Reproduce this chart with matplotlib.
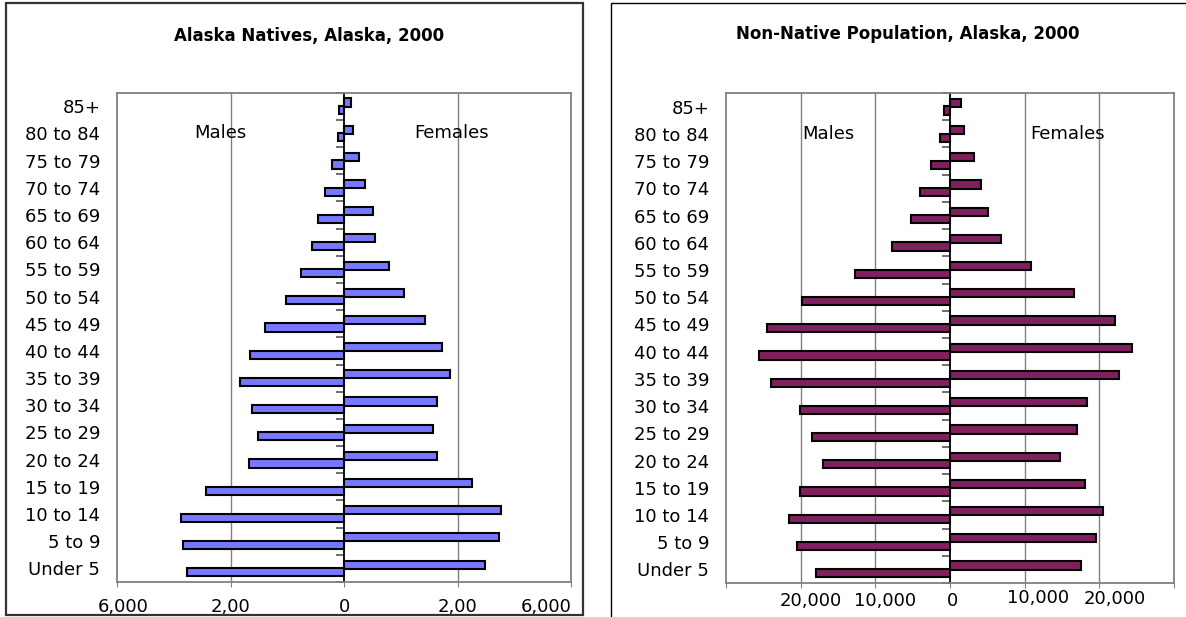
import matplotlib
matplotlib.use("Agg")
import matplotlib.pyplot as plt
from matplotlib.patches import Rectangle
from matplotlib.transforms import ScaledTranslation

age_groups = ["Under 5", "5 to 9", "10 to 14", "15 to 19", "20 to 24", "25 to 29",
              "30 to 34", "35 to 39", "40 to 44", "45 to 49", "50 to 54", "55 to 59",
              "60 to 64", "65 to 69", "70 to 74", "75 to 79", "80 to 84", "85+"]

# Alaska Natives
native_male = [2770, 2840, 2870, 2430, 1680, 1510, 1620, 1830, 1650, 1400, 1030, 760,
               570, 450, 340, 220, 100, 80]
native_female = [2480, 2740, 2760, 2250, 1640, 1560, 1640, 1870, 1730, 1420, 1050, 790,
                 550, 510, 370, 260, 150, 130]

# Non-Native population
nonnative_male = [17970, 20460, 21620, 20100, 17000, 18430, 20100, 24010, 25630, 24470,
                  19800, 12790, 7820, 5230, 3960, 2540, 1320, 760]
nonnative_female = [17510, 19540, 20460, 18020, 14720, 17060, 18380, 22590, 24370, 22130,
                    16600, 10910, 6850, 5080, 4160, 3250, 1880, 1470]

native_ticks = [-4000, -2000, 0, 2000, 4000]
native_ticklabels = ["6,000", "2,00", "0", "2,00", "6,000"]
nonnative_ticks = [-30000, -20000, -10000, 0, 10000, 20000, 30000]
nonnative_ticklabels = ["", "20,000", "10,000", "0", "10,000", "20,000", ""]

plt.rcParams['font.family'] = ['DejaVu Sans']

fig = plt.figure(figsize=(11.86, 6.17), dpi=100)
W, H = 1186, 617


def px_box(x0, y0, x1, y1):
    return [x0 / W, 1 - y1 / H, (x1 - x0) / W, (y1 - y0) / H]


# chart frames
fig.add_artist(Rectangle((6 / W, 1 - 615 / H), 577 / W, 612 / H, transform=fig.transFigure,
                         fill=False, ec='#333333', lw=1.6))
fig.add_artist(Rectangle((611 / W, -0.05), 0.6, 1 - 3 / H + 0.05, transform=fig.transFigure,
                         fill=False, ec='black', lw=1.0))


def pyramid(ax, males, females, color, xmax, ticks, ticklabels, label_shift, title, title_xy,
            males_x, females_x, pad):
    y = list(range(len(age_groups)))
    ax.barh([v + 0.14 for v in y], females, height=0.3, color=color,
            edgecolor='black', linewidth=1.5, zorder=3)
    ax.barh([v - 0.14 for v in y], [-m for m in males], height=0.3, color=color,
            edgecolor='black', linewidth=1.5, zorder=3)
    ax.set_xlim(-xmax, xmax)
    ax.set_ylim(-0.5, len(age_groups) - 0.5)
    ax.set_yticks(y)
    ax.set_yticklabels(age_groups, fontsize=13)
    ax.tick_params(axis='y', length=0, pad=12)
    ax.set_xticks(ticks)
    ax.set_xticklabels(ticklabels, fontsize=13)
    ax.tick_params(axis='x', length=3.5, color='#808080', pad=pad)
    for lab, (dx, dy) in zip(ax.get_xticklabels(), label_shift):
        lab.set_transform(lab.get_transform() + ScaledTranslation(dx / 100, dy / 100, fig.dpi_scale_trans))
    for t in ticks[1:-1]:
        if t != 0:
            ax.axvline(t, color='#808080', lw=1, zorder=1)
    for s in ax.spines.values():
        s.set_color('#808080')
        s.set_linewidth(1.3)
    # vertical axis through zero with category boundary ticks pointing left
    zero_axis = ax.secondary_yaxis(0.5)
    zero_axis.set_yticks([v - 0.5 for v in range(len(age_groups) + 1)])
    zero_axis.set_yticklabels([])
    zero_axis.tick_params(length=5.5, color='#555555', width=1.2, direction='in')
    for s in zero_axis.spines.values():
        s.set_color('black')
        s.set_linewidth(1.3)
    ax.text(males_x, 16, "Males", fontsize=13, ha='center', va='center', zorder=4)
    ax.text(females_x, 16, "Females", fontsize=13, ha='center', va='center', zorder=4)
    fig.text(title_xy[0] / W, 1 - title_xy[1] / H, title, fontsize=12, fontweight='bold',
             ha='center', va='center')


ax1 = fig.add_axes(px_box(117, 92.7, 571, 582))
pyramid(ax1, native_male, native_female, '#7777FF', 4000, native_ticks, native_ticklabels,
        [(6, 0), (0, 0), (0, 0), (0, 0), (-25, 0)], "Alaska Natives, Alaska, 2000", (309, 36),
        -2185, 1900, 8)

ax2 = fig.add_axes(px_box(726, 93, 1174, 583))
pyramid(ax2, nonnative_male, nonnative_female, '#80205F', 30000, nonnative_ticks,
        nonnative_ticklabels, [(0, 0), (10, 0), (10, 0), (2, 0), (13, 3), (15, 2), (0, 0)],
        "Non-Native Population, Alaska, 2000", (908, 34), -16340, 15750, 3)

fig.savefig("out.png", dpi=100)
